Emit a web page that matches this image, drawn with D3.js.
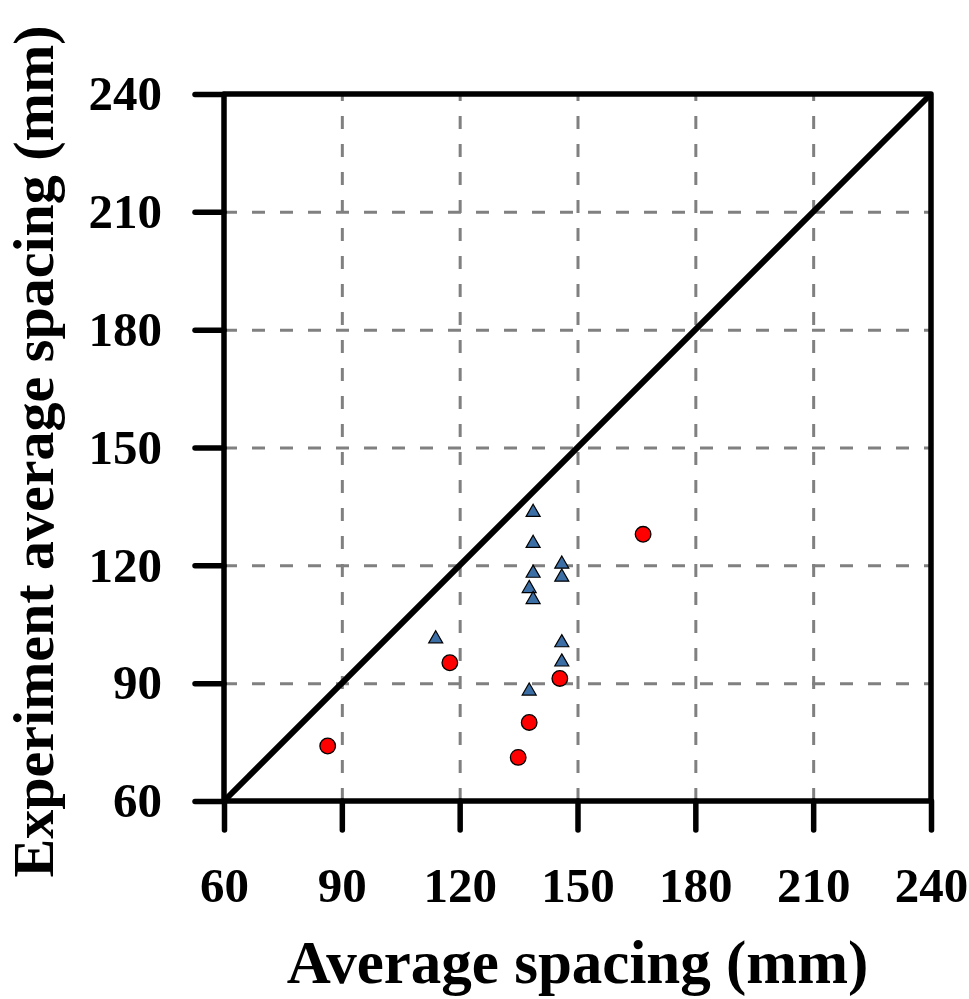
<!DOCTYPE html>
<html>
<head>
<meta charset="utf-8">
<script src="https://cdn.jsdelivr.net/npm/d3@7"></script>
<style>
  body { margin: 0; background: #fff; }
  text { font-family: "Liberation Serif", "Times New Roman", serif; font-weight: bold; }
</style>
</head>
<body>
<div id="chart"></div>
<script>
var svgWidth = 969;
var svgHeight = 999;
// plot box edges
var margin = { top: 94, right: 38, bottom: 198, left: 224 };
var width = svgWidth - margin.left - margin.right;
var height = svgHeight - margin.top - margin.bottom;

// tick values (same on both axes)
var tickVals = [60, 90, 120, 150, 180, 210, 240];

// blue triangles
var triX = [138.7, 138.7, 146, 146, 138.7, 137.7, 138.7, 113.9, 146, 146, 137.7];
var triY = [133.5, 125.6, 120.3, 117, 118, 114.1, 111.3, 101.3, 100.3, 95.4, 88];

// red circles
var circX = [166.7, 117.5, 145.5, 137.7, 134.9, 86.4];
var circY = [127.9, 95.2, 91.2, 80, 71.1, 74];

var svg = d3.select("#chart")
    .append("svg")
    .attr("width", svgWidth)
    .attr("height", svgHeight);

var chartGroup = svg.append("g")
    .attr("transform", `translate(${margin.left}, ${margin.top})`);

var x = d3.scaleLinear().domain([60, 240]).range([0, width]);
var y = d3.scaleLinear().domain([60, 240]).range([height, 0]);

// dashed grid
var inner = tickVals.slice(1, -1);
chartGroup.append("g")
    .attr("class", "grid")
    .attr("transform", `translate(0, ${height})`)
    .call(d3.axisBottom(x).tickValues(inner).tickSize(-height).tickFormat(""));
chartGroup.append("g")
    .attr("class", "grid")
    .call(d3.axisLeft(y).tickValues(inner).tickSize(-width).tickFormat(""));
chartGroup.selectAll(".grid .domain").remove();
chartGroup.selectAll(".grid line")
    .attr("stroke", "#808080")
    .attr("stroke-width", 3)
    .attr("stroke-dasharray", "13,15");

// 1:1 line
chartGroup.append("line")
    .attr("x1", x(60)).attr("y1", y(60))
    .attr("x2", x(240)).attr("y2", y(240))
    .attr("stroke", "black")
    .attr("stroke-width", 6);

// axes with long outward ticks
var bottomAxis = d3.axisBottom(x).tickValues(tickVals).tickSize(29).tickPadding(37);
var leftAxis = d3.axisLeft(y).tickValues(tickVals).tickSize(29).tickPadding(33);

var xAxisG = chartGroup.append("g")
    .attr("transform", `translate(0, ${height})`)
    .call(bottomAxis);
var yAxisG = chartGroup.append("g")
    .call(leftAxis);

[xAxisG, yAxisG].forEach(function (g) {
    g.select(".domain").remove();
    g.selectAll("line")
        .attr("stroke", "black")
        .attr("stroke-width", 5.5)
        .attr("stroke-linecap", "round");
    g.selectAll("text")
        .attr("fill", "black")
        .style("font-size", "49px");
});

// box
chartGroup.append("rect")
    .attr("x", 0).attr("y", 0)
    .attr("width", width).attr("height", height)
    .attr("fill", "none")
    .attr("stroke", "black")
    .attr("stroke-width", 5.5)
    .attr("stroke-linejoin", "round");

// markers
var triData = triX.map((v, i) => ({ x: v, y: triY[i] }));
var circData = circX.map((v, i) => ({ x: v, y: circY[i] }));

chartGroup.selectAll("path.tri")
    .data(triData)
    .enter()
    .append("path")
    .attr("class", "tri")
    .attr("d", d3.symbol().type(d3.symbolTriangle).size(85))
    .attr("transform", d => `translate(${x(d.x)}, ${y(d.y)})`)
    .attr("fill", "#3b6ea5")
    .attr("stroke", "black")
    .attr("stroke-width", 1.2);

chartGroup.selectAll("circle")
    .data(circData)
    .enter()
    .append("circle")
    .attr("cx", d => x(d.x))
    .attr("cy", d => y(d.y))
    .attr("r", 7.8)
    .attr("fill", "#ff0000")
    .attr("stroke", "black")
    .attr("stroke-width", 1.3);

// axis titles
chartGroup.append("text")
    .attr("x", width / 2)
    .attr("y", 983 - margin.top)
    .attr("text-anchor", "middle")
    .style("font-size", "61px")
    .text("Average spacing (mm)");

chartGroup.append("text")
    .attr("transform", `translate(${53 - margin.left}, ${height / 2 + 4}) rotate(-90)`)
    .attr("text-anchor", "middle")
    .style("font-size", "58px")
    .text("Experiment average spacing (mm)");
</script>
</body>
</html>
